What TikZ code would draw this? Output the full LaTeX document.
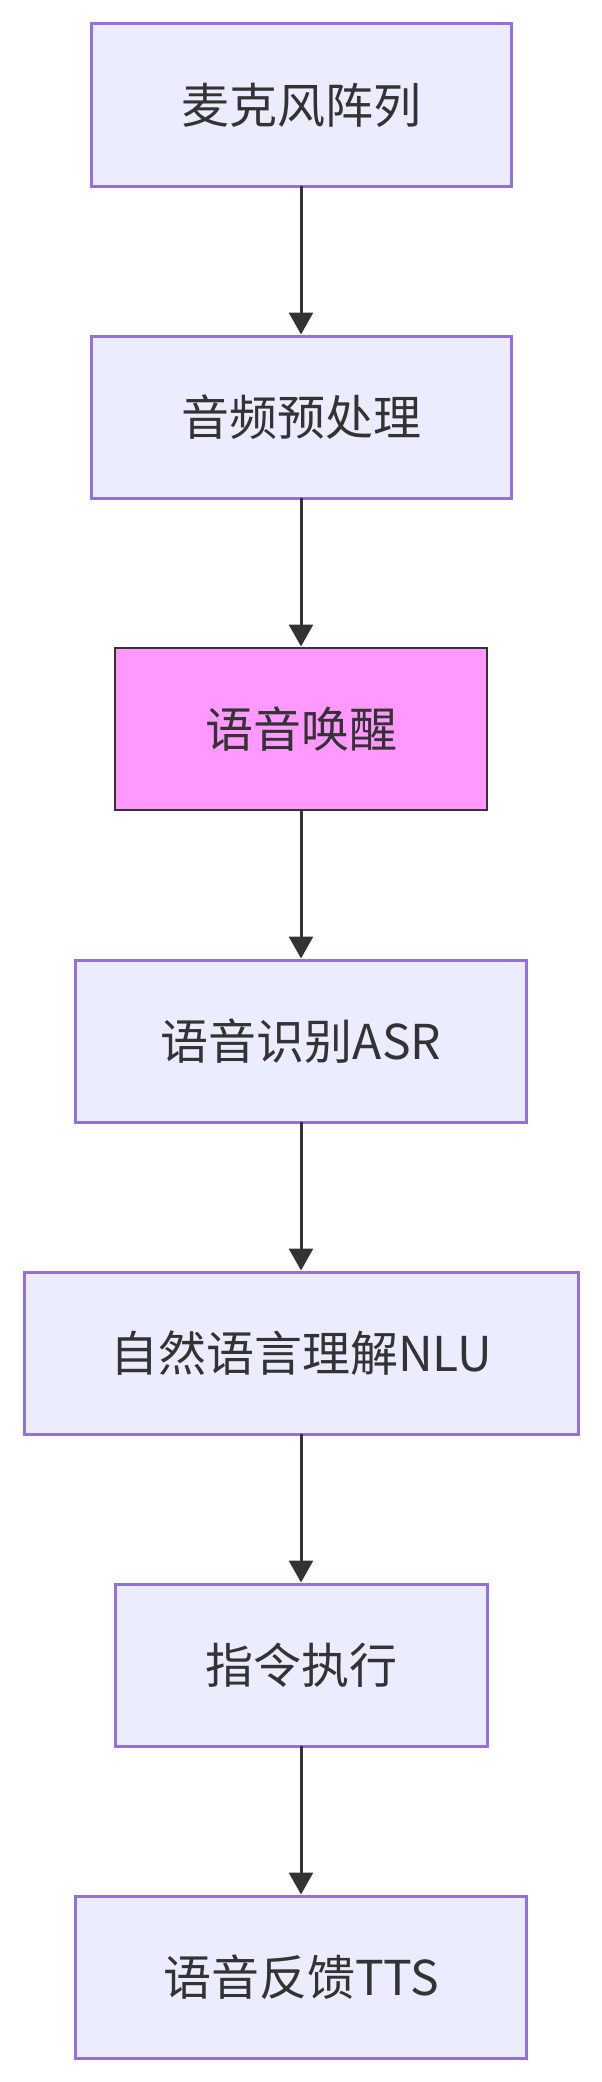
\documentclass[tikz,border=0pt]{standalone}
\usepackage{fontspec}
\setmainfont{Noto Sans CJK SC}
\usetikzlibrary{arrows.meta}
\definecolor{boxfill}{HTML}{ECECFF}
\definecolor{boxline}{HTML}{9370DB}
\definecolor{pinkfill}{HTML}{FF99FF}
\definecolor{darkline}{HTML}{333333}
\begin{document}
\begin{tikzpicture}[x=1pt,y=1pt,
  stepbox/.style={rectangle, draw=boxline, fill=boxfill, line width=3pt,
    minimum height=162pt, inner sep=0pt, outer sep=0pt, text=darkline,
    font=\fontsize{48pt}{58pt}\selectfont},
  pinkbox/.style={stepbox, draw=darkline, fill=pinkfill, line width=2.7pt},
  flow/.style={draw=darkline, line width=3pt,
    -{Triangle[width=24pt,length=22pt]}, shorten >=1.5pt}]
\useasboundingbox (0,0) rectangle (602,-2082);
\node[stepbox, minimum width=420pt] (n1) at (301,-105) {麦克风阵列};
\node[stepbox, minimum width=420pt] (n2) at (301,-417) {音频预处理};
\node[pinkbox, minimum width=372pt] (n3) at (301,-729) {语音唤醒};
\node[stepbox, minimum width=451pt] (n4) at (301,-1041) {语音识别ASR};
\node[stepbox, minimum width=554pt] (n5) at (301,-1353) {自然语言理解NLU};
\node[stepbox, minimum width=372pt] (n6) at (301,-1665) {指令执行};
\node[stepbox, minimum width=451pt] (n7) at (301,-1977) {语音反馈TTS};
\draw[flow] (n1) -- (n2);
\draw[flow] (n2) -- (n3);
\draw[flow] (n3) -- (n4);
\draw[flow] (n4) -- (n5);
\draw[flow] (n5) -- (n6);
\draw[flow] (n6) -- (n7);
\end{tikzpicture}
\end{document}
